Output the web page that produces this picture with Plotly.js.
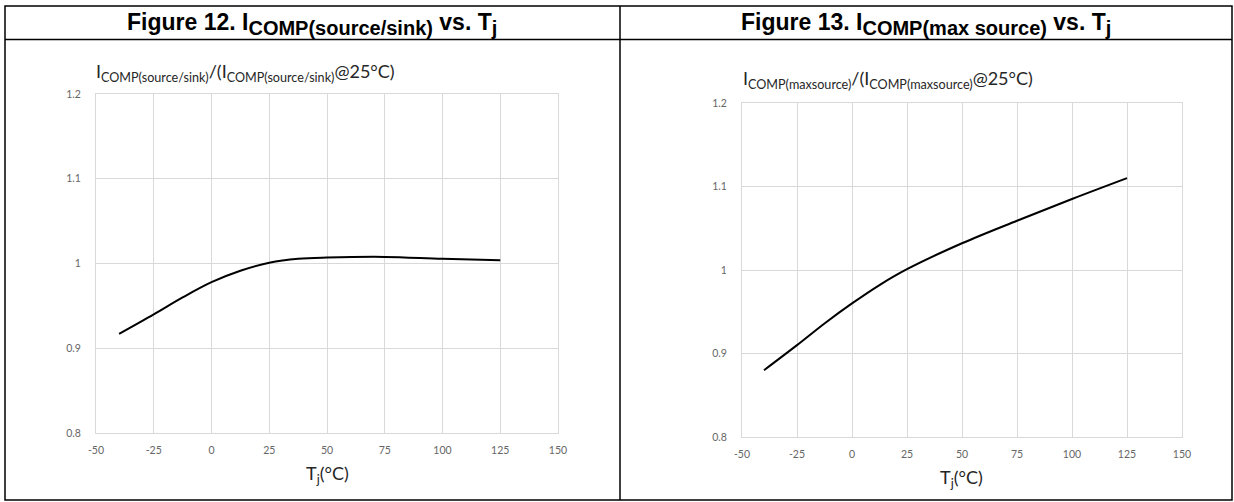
<!DOCTYPE html>
<html>
<head>
<meta charset="utf-8">
<script src="https://cdn.plot.ly/plotly-3.0.1.min.js"></script>
<style>
html,body{margin:0;padding:0;background:#fff;}
#chart{width:1234px;height:502px;}
</style>
</head>
<body>
<div id="chart"></div>
<script>
// ---- data ----
const tempLeft = [-40, -25, -12.5, 0, 12.5, 25, 37.5, 50, 75, 100, 125];
const ratioLeft = [0.917, 0.940, 0.960, 0.978, 0.9915, 1.0008, 1.0055, 1.007, 1.0078, 1.0055, 1.0039];

const tempRight = [-40, -25, -12.5, 0, 12.5, 25, 50, 75, 100, 125];
const ratioRight = [0.880, 0.910, 0.936, 0.960, 0.982, 1.001, 1.032, 1.059, 1.085, 1.110];

const xTicks = [-50, -25, 0, 25, 50, 75, 100, 125, 150];
const yTicks = [0.8, 0.9, 1, 1.1, 1.2];

const subH = s => "<sub><span style=\"font-size:20px\">" + s + "</span></sub>";
const headerLeft = "<b>Figure 12. I" + subH("COMP(source/sink)") + " vs. T" + subH("j") + "</b>";
const headerRight = "<b>Figure 13. I" + subH("COMP(max source)") + " vs. T" + subH("j") + "</b>";
const yTitleLeft = "I<sub>COMP(source/sink)</sub>/(I<sub>COMP(source/sink)</sub>@25°C)";
const yTitleRight = "I<sub>COMP(maxsource)</sub>/(I<sub>COMP(maxsource)</sub>@25°C)";
const xTitle = "T<sub>j</sub>(°C)";

// ---- layout helpers (pixels -> paper) ----
const W = 1234, H = 502;
const px = v => v / W;
const py = v => 1 - v / H;

const tickFont = {family: "Lato, 'Open Sans', sans-serif", size: 10.5, color: "#666666"};
const gridColor = "#d9d9d9";

function xAxis(domain, anchor) {
  return {
    domain: domain, anchor: anchor, range: [-50, 150],
    tickvals: xTicks, ticktext: xTicks.map(String),
    showgrid: true, gridcolor: gridColor, gridwidth: 1,
    showline: true, linecolor: gridColor, linewidth: 1, mirror: true,
    zeroline: false, ticks: "", ticklen: 0, ticklabelstandoff: 7, tickfont: tickFont, fixedrange: true
  };
}
function yAxis(domain, anchor) {
  return {
    domain: domain, anchor: anchor, range: [0.8, 1.2],
    tickvals: yTicks, ticktext: yTicks.map(String),
    showgrid: true, gridcolor: gridColor, gridwidth: 1,
    showline: true, linecolor: gridColor, linewidth: 1, mirror: true,
    zeroline: false, ticks: "", ticklen: 0, ticklabelstandoff: 12, tickfont: tickFont, fixedrange: true
  };
}

const traces = [
  {x: tempLeft, y: ratioLeft, xaxis: "x", yaxis: "y", type: "scatter", mode: "lines",
   line: {color: "#000000", width: 2, shape: "spline", smoothing: 1}, hoverinfo: "skip"},
  {x: tempRight, y: ratioRight, xaxis: "x2", yaxis: "y2", type: "scatter", mode: "lines",
   line: {color: "#000000", width: 2, shape: "spline", smoothing: 1}, hoverinfo: "skip"}
];

const border = {color: "#000000", width: 1.5};
const shapes = [
  {type: "rect", xref: "paper", yref: "paper", x0: px(5), x1: px(1232), y0: py(6), y1: py(500), line: border},
  {type: "line", xref: "paper", yref: "paper", x0: px(620), x1: px(620), y0: py(6), y1: py(500), line: border},
  {type: "line", xref: "paper", yref: "paper", x0: px(5), x1: px(1232), y0: py(39.5), y1: py(39.5), line: border}
];

const annFont = {family: "Lato, 'Open Sans', sans-serif", size: 18, color: "#262626"};
const headFont = {family: "'Liberation Sans', Arial, sans-serif", size: 23, color: "#000"};
const annotations = [
  {text: headerLeft, xref: "paper", yref: "paper", x: px(312), y: py(24), xanchor: "center", yanchor: "middle",
   showarrow: false, font: headFont},
  {text: headerRight, xref: "paper", yref: "paper", x: px(926), y: py(24), xanchor: "center", yanchor: "middle",
   showarrow: false, font: headFont},
  {text: yTitleLeft, xref: "paper", yref: "paper", x: px(94), y: py(73), xanchor: "left", yanchor: "middle",
   showarrow: false, font: annFont},
  {text: yTitleRight, xref: "paper", yref: "paper", x: px(741), y: py(80), xanchor: "left", yanchor: "middle",
   showarrow: false, font: annFont},
  {text: xTitle, xref: "paper", yref: "paper", x: px(327), y: py(474), xanchor: "center", yanchor: "middle",
   showarrow: false, font: annFont},
  {text: xTitle, xref: "paper", yref: "paper", x: px(962), y: py(478), xanchor: "center", yanchor: "middle",
   showarrow: false, font: annFont}
];

const layout = {
  width: W, height: H,
  margin: {l: 0, r: 0, t: 0, b: 0},
  paper_bgcolor: "#ffffff", plot_bgcolor: "#ffffff",
  showlegend: false,
  xaxis: xAxis([px(96), px(558)], "y"),
  yaxis: yAxis([py(433), py(94)], "x"),
  xaxis2: xAxis([px(742), px(1182)], "y2"),
  yaxis2: yAxis([py(437), py(103)], "x2"),
  shapes: shapes,
  annotations: annotations
};

Plotly.newPlot("chart", traces, layout, {displayModeBar: false, staticPlot: true});
</script>
</body>
</html>
